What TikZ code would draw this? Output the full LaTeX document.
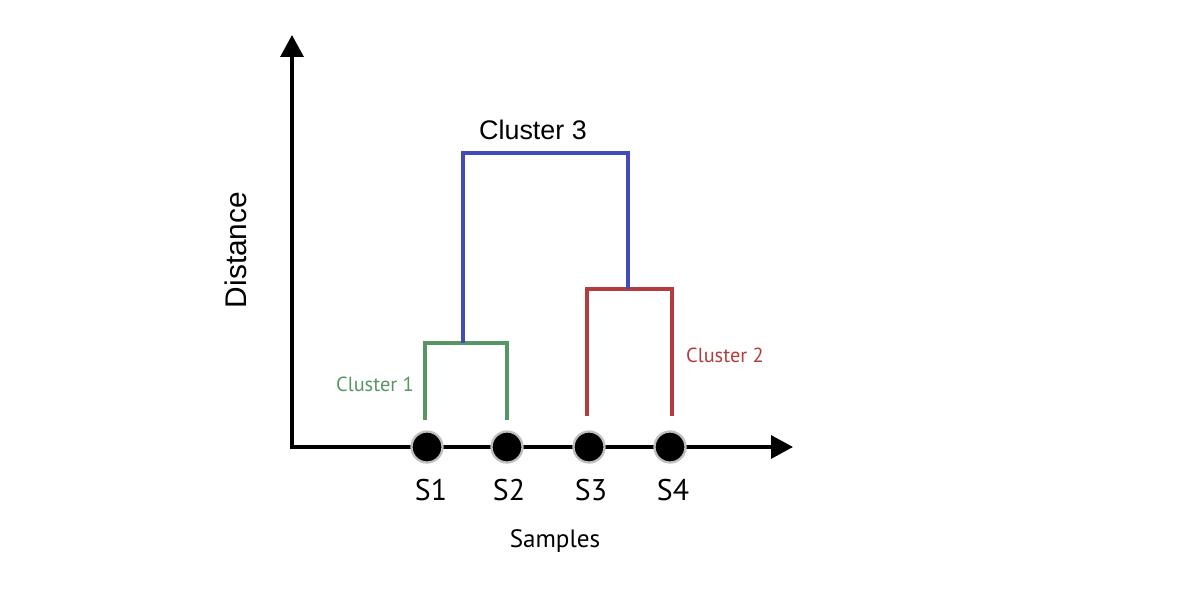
\documentclass[tikz,border=0pt]{standalone}
\usepackage{fontspec}
\setmainfont{Liberation Sans}
\newfontfamily\dinfont{PT Sans}
\usepackage{tikz}
\usepackage{xcolor}
\usetikzlibrary{positioning,arrows.meta}
\definecolor{dgreen}{RGB}{87,150,100}
\definecolor{dred}{RGB}{180,60,60}
\definecolor{dblue}{RGB}{65,75,185}
\tikzset{
  axis/.style={draw, line width=1.8pt, -{Triangle[length=0.44cm,width=0.46cm]}},
  link/.style={draw, line width=2.6pt},
  sample/.style={circle, fill=black, draw=black!25, line width=1.3pt, minimum size=0.62cm, inner sep=0pt},
  samplelabel/.style={font=\dinfont\fontsize{17}{19}\selectfont, inner sep=0pt},
}
\begin{document}
\begin{tikzpicture}[x=0.02cm, y=0.02cm]
  \useasboundingbox (0,0) rectangle (1200,600);
  \coordinate (origin) at (290,153);
  \coordinate (ytip) at (292,565);
  \coordinate (xtip) at (793,153);

  % axes
  \path[axis] (origin -| ytip) -- (ytip);
  \path[axis] (origin) -- (xtip);

  % samples
  \node[sample] (s1) at (427,153) {};
  \node[sample] (s2) at (507,153) {};
  \node[sample] (s3) at (589,153) {};
  \node[sample] (s4) at (670,153) {};
  \node[samplelabel, below=0.3cm of s1, xshift=0.08cm] (l1) {S1};
  \node[samplelabel, below=0.3cm of s2, xshift=0.04cm] (l2) {S2};
  \node[samplelabel, below=0.3cm of s3, xshift=0.04cm] (l3) {S3};
  \node[samplelabel, below=0.3cm of s4, xshift=0.06cm] (l4) {S4};

  \node[font=\dinfont\fontsize{14.3}{16}\selectfont] (samples) at (555,59) {Samples};
  \node[rotate=90, font=\fontsize{17}{20}\selectfont] (distance) at (236,350) {Distance};

  % cluster tops
  \coordinate (c1) at (467,257);
  \coordinate (c2) at (628,311);
  \coordinate (c3) at (545,447);
  \coordinate (base1) at (0,180);
  \coordinate (base2) at (0,184);

  % dendrogram
  \path[link, dgreen] (425,0 |- base1) -- (425,0 |- c1) -- (s2 |- c1) -- (s2 |- base1);
  \path[link, dred] (587,0 |- base2) -- (587,0 |- c2) -- (672,0 |- c2) -- (672,0 |- base2);
  \path[link, dblue] (463,0 |- c1) -- (463,0 |- c3) -- (c2 |- c3) -- (c2);

  \node[text=dgreen, font=\dinfont\fontsize{11.6}{13}\selectfont] (cl1) at (375,216) {Cluster 1};
  \node[text=dred, font=\dinfont\fontsize{11.6}{13}\selectfont] (cl2) at (725,245) {Cluster 2};
  \node[font=\fontsize{15.3}{18}\selectfont] (cl3) at (533,470) {Cluster 3};
\end{tikzpicture}
\end{document}
